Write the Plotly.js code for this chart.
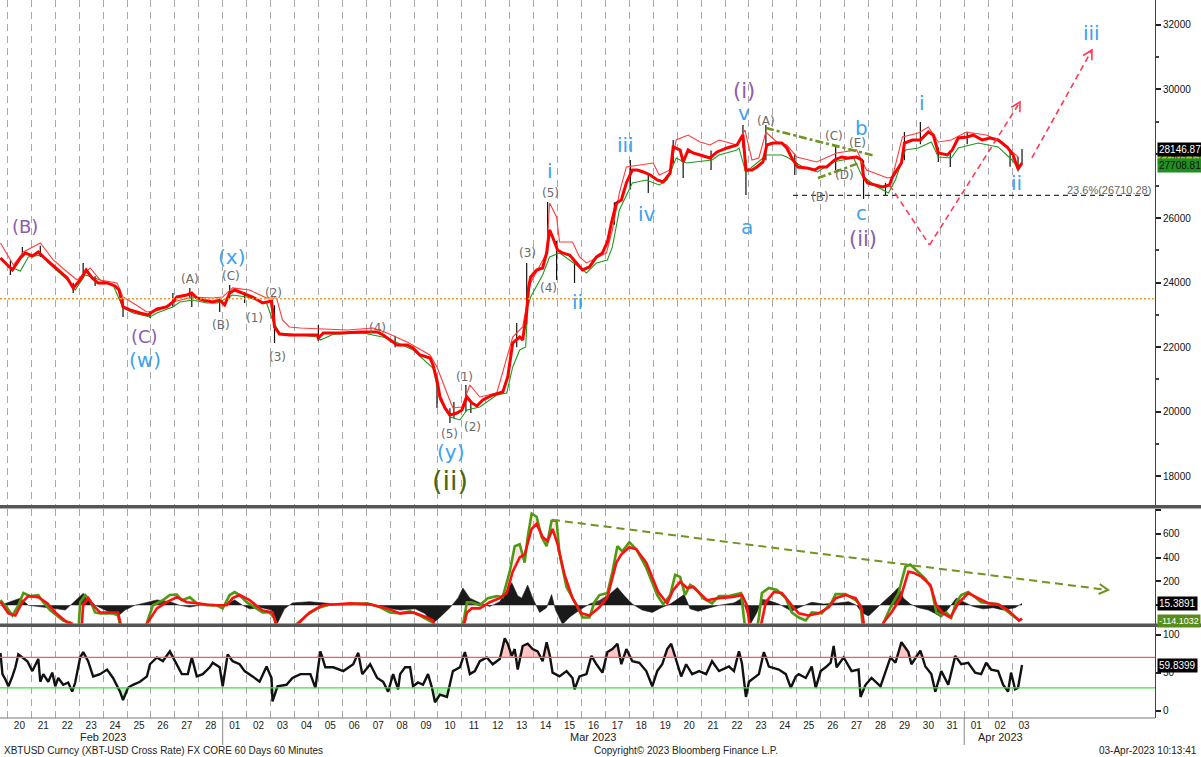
<!DOCTYPE html>
<html><head><meta charset="utf-8">
<script src="https://cdn.plot.ly/plotly-3.0.1.min.js"></script>
<style>html,body{margin:0;padding:0;background:#fff}#chart{width:1201px;height:757px}</style>
</head><body><div id="chart"></div>
<script>
// ---------- DATA ----------
// thick red line (fast average of XBT-USD, hourly chart)
const priceFast = [
["02-19 17",24768],["02-20 00",24550],["02-20 05",24395],["02-20 13",24770],["02-20 18",24923],
["02-21 01",24830],["02-21 07",24954],["02-21 12",24800],["02-21 19",24613],["02-22 03",24395],
["02-22 12",24147],["02-22 18",23837],["02-23 01",24085],["02-23 07",24395],["02-23 13",24147],
["02-23 19",23992],["02-24 04",23992],["02-24 12",23899],["02-24 16",23775],["02-24 20",23247],
["02-25 03",23154],["02-25 13",23061],["02-25 21",22998],["02-26 06",23185],["02-26 16",23247],
["02-26 22",23402],["02-27 02",23557],["02-27 12",23619],["02-27 17",23681],["02-27 22",23526],
["02-28 04",23464],["02-28 14",23402],["02-28 21",23464],["03-01 02",23309],["03-01 07",23681],
["03-01 12",23774],["03-01 20",23681],["03-02 06",23557],["03-02 16",23371],["03-03 01",23433],
["03-03 04",22626],["03-03 09",22409],["03-03 19",22378],["03-04 06",22378],["03-04 23",22378],
["03-05 00",22284],["03-05 05",22440],["03-05 22",22440],["03-06 18",22471],["03-07 11",22471],
["03-07 17",22378],["03-08 00",22222],["03-08 07",22067],["03-08 17",22067],["03-08 23",21974],
["03-09 06",21757],["03-09 16",21664],["03-09 19",21446],["03-09 23",20981],["03-10 02",20453],
["03-10 07",20111],["03-10 12",19894],["03-10 19",19956],["03-11 00",20049],["03-11 05",20453],
["03-11 10",20267],["03-11 15",20174],["03-11 21",20360],["03-12 07",20515],["03-12 17",20608],
["03-12 22",21073],["03-13 03",22129],["03-13 10",22315],["03-13 13",22222],["03-13 17",23092],
["03-13 19",23870],["03-13 21",24178],["03-14 03",24395],["03-14 09",24457],["03-14 13",24923],
["03-14 16",25637],["03-14 19",25420],["03-15 00",25016],["03-15 05",24923],["03-15 12",24861],
["03-15 19",24613],["03-16 01",24395],["03-16 08",24488],["03-16 15",24799],["03-16 21",24923],
["03-17 02",25264],["03-17 06",25854],["03-17 11",26475],["03-17 16",26568],["03-17 21",27096],
["03-18 03",27499],["03-18 08",27499],["03-18 14",27437],["03-18 21",27344],["03-19 04",27189],
["03-19 10",27127],["03-19 17",27406],["03-19 20",28213],["03-20 03",28120],["03-20 06",27747],
["03-20 11",28120],["03-20 16",28027],["03-20 23",27965],["03-21 06",27903],["03-21 09",27872],
["03-21 16",28058],["03-22 02",28182],["03-22 12",28275],["03-22 18",28585],["03-22 21",27499],
["03-23 03",27499],["03-23 08",27592],["03-23 14",27747],["03-23 18",28275],["03-24 00",28337],
["03-24 09",28337],["03-24 14",28182],["03-24 19",27872],["03-25 01",27592],["03-25 10",27561],
["03-25 18",27499],["03-25 23",27592],["03-26 06",27592],["03-26 14",27809],["03-26 21",27903],
["03-27 03",27872],["03-27 12",27903],["03-27 17",27809],["03-27 19",27282],["03-27 23",27096],
["03-28 08",27034],["03-28 14",26972],["03-28 21",27034],["03-29 00",27282],["03-29 09",27716],
["03-29 12",28337],["03-29 20",28430],["03-30 04",28430],["03-30 12",28678],["03-30 17",28585],
["03-30 22",28027],["03-31 07",27965],["03-31 12",28120],["03-31 18",28492],["04-01 03",28523],
["04-01 09",28585],["04-01 18",28430],["04-02 02",28492],["04-02 10",28430],["04-02 19",28213],
["04-03 01",27965],["04-03 06",27530],["04-03 10",27716]
];
// thin red line (slower upper average)
const priceUpper = [
["02-19 17",25233],["02-20 00",24861],["02-20 06",24550],["02-20 16",24954],["02-21 09",25233],
["02-21 16",24954],["02-21 22",24706],["02-22 12",24333],["02-22 22",24085],["02-23 11",24457],
["02-23 21",24085],["02-24 14",23992],["02-24 20",23557],["02-25 06",23371],["02-25 20",23092],
["02-26 09",23154],["02-26 22",23402],["02-27 18",23557],["02-28 14",23526],["03-01 00",23557],
["03-01 10",23837],["03-02 03",23774],["03-02 20",23526],["03-03 06",23526],["03-03 12",22843],
["03-03 19",22626],["03-04 06",22595],["03-06 05",22533],["03-07 07",22595],["03-07 21",22440],
["03-08 17",22160],["03-09 16",21757],["03-09 23",21384],["03-10 09",20577],["03-10 15",20111],
["03-11 00",20142],["03-11 08",20825],["03-11 18",20453],["03-12 11",20577],["03-13 03",22315],
["03-13 13",22626],["03-13 21",24000],["03-14 13",24923],["03-14 16",26475],["03-14 23",26040],
["03-15 02",25264],["03-15 15",25264],["03-15 22",24799],["03-16 05",24613],["03-17 01",24923],
["03-17 07",25637],["03-17 14",26785],["03-17 21",27592],["03-19 00",27716],["03-19 06",27344],
["03-19 17",27499],["03-19 23",28430],["03-20 11",28585],["03-20 23",28368],["03-21 09",28275],
["03-21 18",28430],["03-22 12",28275],["03-22 14",28430],["03-22 20",28740],["03-23 03",27809],
["03-23 10",27872],["03-23 17",28678],["03-24 04",28368],["03-24 14",28275],["03-25 00",27903],
["03-25 20",27747],["03-26 16",28027],["03-27 12",28120],["03-27 22",27499],["03-28 19",27251],
["03-29 00",27282],["03-29 10",28523],["03-30 02",28647],["03-30 12",28833],["03-30 22",28368],
["03-31 11",28430],["04-01 02",28678],["04-01 22",28585],["04-02 14",28368],["04-03 00",28058],
["04-03 07",27872]
];
// thin green line (slower lower average)
const priceLower = [
["02-20 03",24488],["02-20 13",24364],["02-20 21",24800],["02-21 11",24861],["02-21 17",24613],
["02-22 12",24085],["02-22 20",23775],["02-23 06",24240],["02-23 13",24180],["02-24 10",23930],
["02-24 20",23216],["02-25 06",23061],["02-25 23",22936],["02-26 06",23061],["02-26 22",23247],
["02-27 05",23402],["02-27 18",23464],["02-28 08",23371],["02-28 19",23371],["03-01 10",23619],
["03-02 00",23557],["03-02 20",23371],["03-03 02",22843],["03-03 09",22440],["03-04 06",22378],
["03-04 23",22315],["03-05 02",22222],["03-05 15",22400],["03-06 21",22440],["03-07 21",22284],
["03-08 23",21912],["03-09 19",21353],["03-10 02",20360],["03-10 12",19832],["03-10 22",19739],
["03-11 05",20049],["03-11 18",20142],["03-12 11",20515],["03-12 21",20577],["03-13 03",21384],
["03-13 10",21912],["03-13 16",22005],["03-13 18",23247],["03-13 21",23557],["03-14 09",24240],
["03-14 16",24799],["03-15 02",24923],["03-15 19",24550],["03-16 05",24302],["03-16 15",24613],
["03-17 02",24706],["03-17 07",25109],["03-17 14",26257],["03-17 21",26723],["03-18 03",27096],
["03-18 17",27189],["03-19 06",27034],["03-19 14",27189],["03-19 23",27872],["03-20 09",27716],
["03-20 19",27747],["03-21 11",27809],["03-21 18",27965],["03-22 01",28027],["03-22 12",28120],
["03-22 14",28182],["03-22 21",27406],["03-23 03",27592],["03-23 18",27965],["03-24 09",27965],
["03-24 14",27903],["03-25 06",27592],["03-25 21",27437],["03-26 12",27747],["03-27 09",27872],
["03-27 17",27344],["03-28 07",27003],["03-28 20",26785],["03-29 03",27189],["03-29 13",28120],
["03-30 02",28182],["03-30 15",28368],["03-30 22",27903],["03-31 11",27872],["03-31 18",28182],
["04-01 14",28337],["04-02 10",28213],["04-03 00",27809],["04-03 07",27530],["04-03 10",27709]
];
// black hourly bars: notable wicks [time, low, high]
const barWicks = [
["02-20 03",24240,24700],["02-20 15",24850,25109],["02-21 09",24800,25150],["02-22 18",23681,24000],
["02-23 04",24300,24613],["02-23 16",23900,24200],["02-24 20",22936,23500],["02-25 23",22905,23100],
["02-26 22",23250,23681],["02-27 15",23500,23837],["02-27 17",23247,23650],["02-28 21",23092,23450],
["03-01 07",23500,23930],["03-01 22",23371,23700],["03-03 04",22129,23300],["03-05 00",22200,22688],
["03-08 05",22000,22350],["03-09 23",20111,20980],["03-10 12",19646,20100],["03-10 16",19800,20298],
["03-11 04",20000,20825],["03-11 09",19956,20300],["03-13 07",22000,22750],["03-13 17",22700,24613],
["03-14 14",24900,26506],["03-14 23",24085,25300],["03-15 17",23992,24700],["03-17 09",25800,26500],
["03-18 01",26900,27809],["03-18 19",26785,27400],["03-19 20",27700,28430],["03-20 06",27251,27900],
["03-21 10",27499,28100],["03-22 18",28200,28896],["03-22 21",26723,27800],["03-23 17",27800,28896],
["03-24 22",27344,28000],["03-26 15",27500,28275],["03-27 19",26599,27800],["03-28 17",26723,27100],
["03-29 12",27800,28678],["03-30 04",28300,28989],["03-30 22",27747,28200],["03-31 10",27592,28100],
["04-01 03",28300,28678],["04-02 22",27600,28100],["04-03 06",27450,27900],["04-03 10",27700,28147]
];
// middle panel: oscillator green and red lines, black histogram
const oscGreen = [
["02-19 17",43],["02-20 00",-26],["02-20 05",-86],["02-20 11",0],["02-20 16",103],["02-20 23",77],
["02-21 07",86],["02-21 12",26],["02-21 19",-43],["02-22 02",-86],["02-22 08",-128],["02-22 15",-145],
["02-22 19",-250],["02-22 23",-250],["02-23 01",26],["02-23 06",86],["02-23 11",40],["02-23 16",-60],
["02-23 21",-68],["02-24 10",-68],["02-24 15",-86],["02-24 19",-250],["02-25 18",-250],["02-25 20",-145],
["02-26 02",0],["02-26 12",43],["02-26 19",86],["02-27 02",90],["02-27 07",43],["02-27 15",68],
["02-27 22",17],["02-28 08",0],["02-28 18",0],["03-01 00",-26],["03-01 07",86],["03-01 12",111],
["03-01 17",86],["03-02 00",26],["03-02 10",-26],["03-02 16",-60],["03-02 23",-60],["03-03 04",-111],
["03-03 07",-250],["03-03 23",-250],["03-04 02",-160],["03-04 12",-86],["03-04 23",-26],["03-05 12",9],
["03-06 08",9],["03-07 01",17],["03-07 14",-17],["03-08 00",-60],["03-08 10",-68],["03-08 20",-51],
["03-09 06",-86],["03-09 19",-145],["03-09 23",-250],["03-10 22",-250],["03-11 02",-120],["03-11 05",26],
["03-11 10",26],["03-11 18",0],["03-12 02",60],["03-12 11",77],["03-12 17",70],["03-13 00",282],
["03-13 05",496],["03-13 10",513],["03-13 15",359],["03-13 18",573],["03-13 22",770],["03-14 03",744],
["03-14 08",573],["03-14 13",496],["03-14 18",710],["03-14 23",710],["03-15 02",428],["03-15 09",154],
["03-15 19",0],["03-16 01",-103],["03-16 08",-103],["03-16 13",26],["03-16 18",86],["03-17 02",103],
["03-17 07",282],["03-17 12",496],["03-17 17",453],["03-18 00",530],["03-18 07",470],["03-18 17",316],
["03-19 04",86],["03-19 10",9],["03-19 17",86],["03-19 22",257],["03-20 03",239],["03-20 08",86],
["03-20 13",171],["03-20 18",145],["03-21 02",60],["03-21 11",17],["03-21 18",77],["03-22 04",77],
["03-22 16",103],["03-22 17",26],["03-22 21",-250],["03-23 07",-250],["03-23 10",-100],["03-23 13",103],
["03-23 20",145],["03-24 04",128],["03-24 13",60],["03-24 19",-60],["03-25 02",-103],["03-25 09",-128],
["03-25 15",-60],["03-26 01",-68],["03-26 11",26],["03-26 15",94],["03-27 01",94],["03-27 11",43],
["03-27 16",0],["03-27 19",-250],["03-28 10",-250],["03-28 17",-111],["03-28 23",0],["03-29 06",103],
["03-29 13",325],["03-29 18",342],["03-30 02",274],["03-30 09",222],["03-30 15",145],["03-30 20",-60],
["03-31 01",-86],["03-31 06",-60],["03-31 11",-103],["03-31 16",26],["03-31 21",86],["04-01 04",111],
["04-01 11",68],["04-01 17",26],["04-02 10",9],["04-02 20",-60],["04-03 07",-128],["04-03 10",-114]
];
const oscRed = [
["02-19 17",30],["02-20 01",-68],["02-20 08",-86],["02-20 15",26],["02-20 21",77],["02-21 07",68],
["02-21 16",17],["02-22 00",-60],["02-22 12",-145],["02-22 17",-154],["02-22 21",-250],["02-23 02",-250],
["02-23 04",0],["02-23 09",60],["02-23 14",0],["02-23 21",-60],["02-24 15",-60],["02-24 20",-250],
["02-25 18",-250],["02-25 20",-154],["02-26 06",-26],["02-26 16",26],["02-27 02",68],["02-27 12",26],
["02-27 22",17],["02-28 14",0],["03-01 04",0],["03-01 10",60],["03-01 17",86],["03-02 03",43],
["03-02 16",-43],["03-03 02",-60],["03-03 09",-250],["03-03 22",-250],["03-04 02",-170],["03-04 15",-60],
["03-05 04",0],["03-06 08",17],["03-07 04",9],["03-07 21",-26],["03-08 10",-68],["03-08 23",-60],
["03-09 13",-103],["03-09 19",-128],["03-09 23",-250],["03-11 00",-250],["03-11 05",-60],["03-11 10",-26],
["03-11 18",-26],["03-12 04",26],["03-12 14",60],["03-12 21",103],["03-13 03",282],["03-13 10",402],
["03-13 15",428],["03-13 22",641],["03-14 03",684],["03-14 09",573],["03-14 14",539],["03-14 19",641],
["03-15 00",513],["03-15 07",257],["03-15 15",60],["03-16 00",-68],["03-16 08",-86],["03-16 18",-17],
["03-17 02",68],["03-17 11",359],["03-17 16",428],["03-18 00",487],["03-18 07",470],["03-18 17",359],
["03-19 05",111],["03-19 14",17],["03-19 20",128],["03-20 03",197],["03-20 10",145],["03-20 16",154],
["03-21 06",43],["03-21 18",60],["03-22 08",70],["03-22 17",86],["03-22 22",0],["03-23 02",-250],
["03-23 10",-250],["03-23 14",-100],["03-23 17",26],["03-24 01",111],["03-24 09",103],["03-24 19",0],
["03-25 02",-68],["03-25 12",-86],["03-25 22",-68],["03-26 08",-17],["03-26 15",60],["03-27 01",86],
["03-27 11",60],["03-27 17",-26],["03-27 21",-250],["03-28 13",-250],["03-28 15",-145],["03-28 23",-60],
["03-29 08",60],["03-29 16",282],["03-29 21",274],["03-30 05",240],["03-30 14",171],["03-30 20",0],
["03-31 03",-68],["03-31 10",-103],["03-31 18",17],["04-01 04",103],["04-01 14",60],["04-02 00",17],
["04-02 10",9],["04-02 20",-43],["04-03 07",-128],["04-03 10",-111]
];
const oscHist = [
["02-19 17",0],["02-20 03",30],["02-20 13",60],["02-20 21",0],["02-21 09",-10],["02-22 02",-30],
["02-22 10",-40],["02-22 15",0],["02-22 23",60],["02-23 04",100],["02-23 09",60],["02-23 16",0],
["02-24 02",-40],["02-24 15",-90],["02-24 22",-40],["02-25 08",0],["02-25 18",20],["02-26 06",45],
["02-26 19",30],["02-27 05",0],["02-27 15",-15],["02-28 01",0],["02-28 14",10],["03-01 00",0],
["03-01 12",45],["03-01 20",0],["03-02 03",-30],["03-02 15",-20],["03-03 01",-40],["03-03 07",-150],
["03-03 14",-30],["03-03 22",20],["03-04 15",30],["03-05 12",15],["03-06 08",8],["03-07 04",0],
["03-07 19",-20],["03-08 10",-40],["03-09 01",-30],["03-09 11",-70],["03-09 19",-150],["03-10 02",-100],
["03-10 12",-20],["03-10 20",60],["03-11 01",145],["03-11 08",60],["03-11 18",20],["03-12 04",-10],
["03-12 14",30],["03-12 21",120],["03-13 02",190],["03-13 08",80],["03-13 12",60],["03-13 18",170],
["03-13 23",60],["03-14 06",-60],["03-14 13",-20],["03-14 18",90],["03-14 22",-40],["03-15 05",-160],
["03-15 12",-100],["03-15 22",-40],["03-16 08",10],["03-16 18",40],["03-17 04",90],["03-17 12",150],
["03-17 19",80],["03-18 03",10],["03-18 13",-40],["03-18 23",-60],["03-19 08",-20],["03-19 17",10],
["03-20 01",60],["03-20 07",90],["03-20 13",-30],["03-20 21",-50],["03-21 09",-20],["03-21 18",0],
["03-22 09",20],["03-22 17",60],["03-22 22",-60],["03-23 02",-150],["03-23 08",-60],["03-23 13",50],
["03-23 20",40],["03-24 06",10],["03-24 19",-50],["03-25 02",-20],["03-25 15",25],["03-26 03",10],
["03-26 18",20],["03-27 04",30],["03-27 12",0],["03-27 17",-60],["03-28 00",-90],["03-28 07",-30],
["03-28 15",30],["03-28 23",90],["03-29 06",150],["03-29 11",60],["03-29 18",10],["03-30 02",-20],
["03-30 12",-40],["03-30 19",-70],["03-31 01",-100],["03-31 08",-30],["03-31 16",60],["03-31 23",30],
["04-01 09",-10],["04-01 19",-30],["04-02 05",-20],["04-02 15",-40],["04-02 22",-30],["04-03 03",-20],
["04-03 10",15]
];
// bottom panel: RSI
const rsi = [
["02-19 17",76],["02-19 19",48],["02-19 22",41],["02-20 01",32],["02-20 05",45],["02-20 08",57],
["02-20 11",74],["02-20 15",70],["02-20 20",65],["02-21 01",52],["02-21 04",61],["02-21 07",68],
["02-21 09",38],["02-21 12",48],["02-21 17",38],["02-21 21",50],["02-22 00",32],["02-22 03",43],
["02-22 08",34],["02-22 13",37],["02-22 17",25],["02-22 20",37],["02-23 01",70],["02-23 04",77],
["02-23 09",65],["02-23 14",45],["02-23 21",48],["02-24 04",54],["02-24 10",43],["02-24 17",25],
["02-24 20",14],["02-25 01",30],["02-25 06",34],["02-25 13",38],["02-25 20",45],["02-25 23",61],
["02-26 06",70],["02-26 12",65],["02-26 19",78],["02-27 00",65],["02-27 07",48],["02-27 13",48],
["02-27 17",70],["02-27 22",45],["02-28 04",48],["02-28 11",57],["02-28 14",63],["02-28 21",57],
["03-01 00",32],["03-01 05",74],["03-01 10",65],["03-01 17",61],["03-01 22",52],["03-02 06",45],
["03-02 13",38],["03-02 20",58],["03-03 01",43],["03-03 02",12],["03-03 07",32],["03-03 16",34],
["03-03 22",43],["03-04 06",48],["03-04 16",48],["03-04 21",30],["03-05 02",78],["03-05 07",57],
["03-05 15",57],["03-06 01",52],["03-06 11",61],["03-06 16",76],["03-06 20",48],["03-07 04",61],
["03-07 11",43],["03-07 17",38],["03-07 22",25],["03-08 03",48],["03-08 08",28],["03-08 10",48],
["03-08 15",57],["03-08 20",57],["03-08 23",32],["03-09 04",37],["03-09 09",34],["03-09 14",48],
["03-09 18",30],["03-09 21",11],["03-10 02",21],["03-10 09",18],["03-10 12",34],["03-10 15",52],
["03-10 22",57],["03-11 03",77],["03-11 08",48],["03-11 13",52],["03-11 18",65],["03-12 01",70],
["03-12 07",61],["03-12 14",68],["03-12 19",95],["03-12 22",88],["03-13 02",72],["03-13 05",81],
["03-13 08",54],["03-13 13",85],["03-13 18",88],["03-13 23",81],["03-14 04",78],["03-14 09",65],
["03-14 13",90],["03-14 16",74],["03-14 19",50],["03-15 02",45],["03-15 09",52],["03-15 15",43],
["03-15 17",28],["03-15 22",45],["03-16 05",48],["03-16 10",72],["03-16 15",61],["03-16 21",50],
["03-17 02",77],["03-17 07",81],["03-17 12",88],["03-17 16",61],["03-17 21",81],["03-18 03",65],
["03-18 10",63],["03-18 17",52],["03-18 23",32],["03-19 04",52],["03-19 09",61],["03-19 14",81],
["03-19 18",88],["03-19 23",65],["03-20 04",45],["03-20 09",61],["03-20 15",48],["03-20 22",52],
["03-21 05",48],["03-21 11",65],["03-21 18",52],["03-22 04",58],["03-22 09",52],["03-22 14",78],
["03-22 17",62],["03-22 21",18],["03-23 00",38],["03-23 10",48],["03-23 15",77],["03-23 20",58],
["03-24 06",54],["03-24 13",48],["03-24 18",30],["03-24 23",45],["03-25 02",48],["03-25 09",43],
["03-25 15",58],["03-25 19",30],["03-26 00",52],["03-26 05",57],["03-26 10",63],["03-26 13",85],
["03-26 16",57],["03-26 23",70],["03-27 07",52],["03-27 14",54],["03-27 16",18],["03-27 21",34],
["03-28 03",43],["03-28 12",32],["03-28 17",50],["03-28 22",70],["03-29 03",63],["03-29 09",90],
["03-29 16",77],["03-29 19",61],["03-30 04",79],["03-30 09",58],["03-30 15",48],["03-30 19",25],
["03-31 01",52],["03-31 08",34],["03-31 15",72],["03-31 21",61],["04-01 04",63],["04-01 11",50],
["04-01 17",48],["04-01 22",63],["04-02 03",54],["04-02 10",52],["04-02 15",34],["04-02 20",25],
["04-02 23",50],["04-03 03",28],["04-03 06",30],["04-03 10",60]
];
// reference levels
const supportLevel = 23500;          // orange dotted line
const fibLevel = 26710.28;           // 23.6% retracement
const rsiUpper = 70, rsiLower = 30;
// last-value tags
const lastClose = 28146.87, lastMidA = 27909.15, lastMidB = 27708.81;
const lastHist = 15.3891, lastOsc = -114.1032, lastRsi = 59.8399;
// wave-count labels [text, time, price, kind]
const waveLabels = [
["(B)","02-20 17:40",25730,"purple"],["(C)","02-25 18:00",22316,"purple"],["(w)","02-25 18:00",21602,"blue"],
["(A)","02-27 15:18",24116,"gray"],["(C)","03-01 08:24",24209,"gray"],["(x)","03-01 08:24",24799,"blue"],
["(B)","02-28 22:18",22688,"gray"],["(1)","03-02 08:24",22905,"gray"],["(2)","03-03 02:30",23681,"gray"],
["(3)","03-03 06:30",21695,"gray"],["(4)","03-07 11:48",22595,"gray"],["(1)","03-11 03:06",21074,"gray"],
["(5)","03-10 11:06",19305,"gray"],["(2)","03-11 10:12",19522,"gray"],["(y)","03-10 12:06",18746,"blue"],
["(ii)","03-10 12:06",17846,"green"],["(3)","03-13 18:18",24923,"gray"],["(4)","03-14 14:24",23837,"gray"],
["(5)","03-14 16:24",26785,"gray"],["i","03-14 16:24",27468,"blue"],["ii","03-15 19:30",23402,"blue"],
["iii","03-17 19:42",28275,"blue"],["iv","03-18 17:48",26134,"blue"],["(i)","03-22 19:06",29951,"purple2"],
["v","03-22 19:06",29268,"blue"],["(A)","03-23 17:06",29020,"gray"],["a","03-22 22:06",25730,"blue"],
["(C)","03-26 13:18",28555,"gray"],["b","03-27 17:24",28803,"blue"],["(E)","03-27 13:24",28337,"gray"],
["(D)","03-27 00:18",27344,"gray"],["(B)","03-25 23:12",26661,"gray"],["c","03-27 17:24",26165,"blue"],
["(ii)","03-27 18:24",25357,"purple2"],["i","03-30 05:36",29579,"blue"],["ii","04-03 04:54",27096,"blue"],
["iii","04-06 08:12",31752,"blue"]
];
// drawn trend lines [t0, p0, t1, p1]
const triangleLines = [["03-23 17:06",28803,"03-28 06:30",27934],["03-25 21:18",27251,"03-27 17:30",27747]];
const projPath1 = [["03-28 21:06",27034],["03-30 13:12",25171],["04-03 08:00",29610]];
const projPath2 = [["04-03 19:54",27872],["04-06 08:06",31224]];
const oscTrend = [["03-14 18:24",718],["04-07 00:18",128]];
const fibStart = "03-24 20:12";

// ---------- BUILD ----------
const T = s => '2023-' + s + (s.length === 8 ? ':00' : '');
const xs = a => a.map(p => T(p[0]));
const ys = a => a.map(p => p[1]);

const wx = [], wy = [];
barWicks.forEach(w => { wx.push(T(w[0]), T(w[0]), null); wy.push(w[1], w[2], null); });

const dayTicks = [], dayText = [];
for (let d = new Date(Date.UTC(2023,1,20)); d.getTime() <= Date.UTC(2023,3,3); d.setUTCDate(d.getUTCDate()+1)) {
  const iso = d.toISOString().slice(0,10);
  dayTicks.push(iso); dayText.push(iso.slice(8,10));
}

const NARROW = 'Liberation Sans Narrow, Arial Narrow, Liberation Sans, Arial, sans-serif';
const WAVE = 'DejaVu Sans, Verdana, sans-serif';

const traces = [
  {x: wx, y: wy, xaxis:'x', yaxis:'y', mode:'lines', line:{color:'#111', width:1.2}, hoverinfo:'skip'},
  {x: xs(priceLower), y: ys(priceLower), xaxis:'x', yaxis:'y', mode:'lines', line:{color:'#1e9a1e', width:1.1}},
  {x: xs(priceUpper), y: ys(priceUpper), xaxis:'x', yaxis:'y', mode:'lines', line:{color:'#ff3b3b', width:1.1}},
  {x: xs(priceFast), y: ys(priceFast), xaxis:'x', yaxis:'y', mode:'lines', line:{color:'#ff0000', width:3}},
  // middle panel
  {x: xs(oscHist), y: ys(oscHist), xaxis:'x2', yaxis:'y2', mode:'lines', fill:'tozeroy', fillcolor:'#1a1a1a', line:{color:'#1a1a1a', width:0.6}},
  {x: xs(oscGreen), y: ys(oscGreen), xaxis:'x2', yaxis:'y2', mode:'lines', line:{color:'#4e9a12', width:2.6}},
  {x: xs(oscRed), y: ys(oscRed), xaxis:'x2', yaxis:'y2', mode:'lines', fill:'tonexty', fillcolor:'rgba(255,140,140,0.22)', line:{color:'#ff1010', width:2.6}},
  // bottom panel fills
  {x: xs(rsi), y: rsi.map(()=>rsiUpper), xaxis:'x3', yaxis:'y3', mode:'lines', line:{width:0, color:'rgba(0,0,0,0)'}},
  {x: xs(rsi), y: rsi.map(p=>Math.max(p[1], rsiUpper)), xaxis:'x3', yaxis:'y3', mode:'lines', fill:'tonexty', fillcolor:'rgba(255,150,150,0.55)', line:{width:0, color:'rgba(0,0,0,0)'}},
  {x: xs(rsi), y: rsi.map(()=>rsiLower), xaxis:'x3', yaxis:'y3', mode:'lines', line:{width:0, color:'rgba(0,0,0,0)'}},
  {x: xs(rsi), y: rsi.map(p=>Math.min(p[1], rsiLower)), xaxis:'x3', yaxis:'y3', mode:'lines', fill:'tonexty', fillcolor:'rgba(140,230,140,0.55)', line:{width:0, color:'rgba(0,0,0,0)'}},
  {x: xs(rsi), y: ys(rsi), xaxis:'x3', yaxis:'y3', mode:'lines', line:{color:'#111', width:2.4}}
];

const xRange = ['2023-02-19 16:34', '2023-04-08 23:25'];
const xBase = {
  type:'date', range:xRange, tickmode:'array', tickvals:dayTicks, ticktext:dayText,
  showgrid:true, gridcolor:'#a9a9a9', griddash:'7px,5px', gridwidth:1,
  zeroline:false, showline:false, ticks:'', fixedrange:true
};
const yBase = {side:'right', showgrid:false, zeroline:false, showline:true, linecolor:'#444', linewidth:1,
  ticks:'outside', ticklen:5, tickwidth:2, tickcolor:'#222', tickfont:{family:NARROW, size:10, color:'#111'}};

const P = y => (718 - y) / 718; // pixel row -> paper
const colors = {purple:'#8c5cae', purple2:'#8c5cae', blue:'#3ba3f0', gray:'#6a6a6a', green:'#4a6810'};
const sizes = {purple:18, purple2:21, blue:20, gray:12, green:27};

const annotations = waveLabels.map(l => ({
  xref:'x', yref:'y', x:T(l[1]), y:l[2], text:l[0], showarrow:false,
  xanchor:'center', yanchor:'middle', font:{family:WAVE, size:sizes[l[3]], color:colors[l[3]]}
}));

function tag(text, yref, y, bg, fg, size) {
  return {xref:'paper', yref:yref, x:1157/1155, y:y, xanchor:'left', yanchor:'middle', text:text, showarrow:false,
    bgcolor:bg, borderpad:1, font:{family:NARROW, size:size || 10, color:fg}};
}
function foot(text, xpx, anchor, ypx, size) {
  return {xref:'paper', yref:'paper', x:xpx/1155, y:P(ypx), xanchor:anchor, yanchor:'middle', text:text,
    showarrow:false, font:{family:NARROW, size:size, color:'#222'}};
}
annotations.push(
  tag(lastMidA.toFixed(2), 'y', 27930, '#9acd32', '#333'),
  tag(lastMidB.toFixed(2), 'y', lastMidB - 80, '#1f8f1f', '#111'),
  tag(lastClose.toFixed(2), 'y', lastClose, '#000', '#fff'),
  tag(lastHist.toFixed(4), 'y2', lastHist, '#000', '#fff'),
  tag(lastOsc.toFixed(4), 'y2', lastOsc - 20, '#5a8c1c', '#fff', 9),
  tag(lastRsi.toFixed(4), 'y3', lastRsi, '#000', '#fff'),
  {xref:'paper', yref:'y', x:0.998, y:fibLevel, xanchor:'right', yanchor:'middle', yshift:5, showarrow:false,
   text:'23.6%(' + fibLevel.toFixed(2) + ')', font:{family:NARROW, size:11, color:'#666'}},
  foot('Feb 2023', 103, 'center', 737, 11),
  foot('Mar 2023', 593, 'center', 737, 11),
  foot('Apr 2023', 1000, 'center', 737, 11),
  foot('XBTUSD Curncy (XBT-USD Cross Rate) FX CORE 60 Days 60 Minutes', 2, 'left', 750, 10),
  foot('Copyright\u00a9 2023 Bloomberg Finance L.P.', 686, 'center', 750, 10),
  foot('03-Apr-2023 10:13:41', 1199, 'right', 750, 10)
);

const shapes = [
  // panel separators
  {type:'rect', xref:'paper', yref:'paper', x0:0, x1:1201/1155, y0:P(508.5), y1:P(505), fillcolor:'#555', line:{width:0}},
  {type:'rect', xref:'paper', yref:'paper', x0:0, x1:1201/1155, y0:P(627), y1:P(623.5), fillcolor:'#555', line:{width:0}},
  {type:'line', xref:'paper', yref:'paper', x0:0, x1:1, y0:0, y1:0, line:{color:'#777', width:1}},
  // month separators below axis
  {type:'line', xref:'x3', yref:'paper', x0:'2023-03-01', x1:'2023-03-01', y0:0, y1:P(745), line:{color:'#888', width:1}},
  {type:'line', xref:'x3', yref:'paper', x0:'2023-04-01', x1:'2023-04-01', y0:0, y1:P(745), line:{color:'#888', width:1}},
  // levels
  {type:'line', xref:'paper', yref:'y', x0:0, x1:1, y0:supportLevel, y1:supportLevel, line:{color:'#f0a028', width:1.5, dash:'2px,2px'}},
  {type:'line', xref:'x', yref:'y', x0:T(fibStart), x1:'2023-04-08 21:00', y0:fibLevel, y1:fibLevel, line:{color:'#333', width:1.3, dash:'5px,4px'}},
  {type:'line', xref:'x3', yref:'y3', x0:xRange[0], x1:xRange[1], y0:rsiUpper, y1:rsiUpper, line:{color:'#ff5a5a', width:1.2}},
  {type:'line', xref:'x3', yref:'y3', x0:xRange[0], x1:xRange[1], y0:rsiLower, y1:rsiLower, line:{color:'#44dd44', width:1.2}}
];
triangleLines.forEach(l => shapes.push({type:'line', xref:'x', yref:'y', x0:T(l[0]), y0:l[1], x1:T(l[2]), y1:l[3],
  line:{color:'#6f9420', width:2.6, dash:'8px,3px,3px,3px'}}));
const redDash = {color:'#ff3a55', width:1.6, dash:'6px,4px'};
for (let i = 0; i < projPath1.length - 1; i++) shapes.push({type:'line', xref:'x', yref:'y',
  x0:T(projPath1[i][0]), y0:projPath1[i][1], x1:T(projPath1[i+1][0]), y1:projPath1[i+1][1], line:redDash});
shapes.push({type:'line', xref:'x', yref:'y', x0:T(projPath2[0][0]), y0:projPath2[0][1], x1:T(projPath2[1][0]), y1:projPath2[1][1], line:redDash});
// arrow heads (pixel-sized, anchored at the tips)
function head(xref, yref, t, v, path, color, w) {
  return {type:'path', xref:xref, yref:yref, xsizemode:'pixel', ysizemode:'pixel', xanchor:T(t), yanchor:v,
    path:path, line:{color:color, width:w}};
}
const tip1 = projPath1[projPath1.length-1], tip2 = projPath2[1];
shapes.push(head('x','y', tip1[0], tip1[1], 'M -0.2,-10.3 L 0,0 L -8.8,-5.3', '#ff3a55', 1.6));
shapes.push(head('x','y', tip2[0], tip2[1], 'M 0,-10.3 L 0,0 L -8.8,-5.5', '#ff3a55', 1.6));
shapes.push({type:'line', xref:'x2', yref:'y2', x0:T(oscTrend[0][0]), y0:oscTrend[0][1], x1:T(oscTrend[1][0]), y1:oscTrend[1][1],
  line:{color:'#6f9420', width:2, dash:'8px,5px'}});
shapes.push(head('x2','y2', oscTrend[1][0], oscTrend[1][1], 'M -9.5,-3.9 L 0,0 L -8.3,6.1', '#6f9420', 2));

const layout = {
  width:1201, height:757, margin:{l:0, r:46, t:0, b:39},
  paper_bgcolor:'#fff', plot_bgcolor:'#fff', showlegend:false, hovermode:false,
  font:{family:NARROW, size:10, color:'#222'},
  xaxis: Object.assign({}, xBase, {anchor:'y', matches:'x3', showticklabels:false}),
  xaxis2: Object.assign({}, xBase, {anchor:'y2', matches:'x3', showticklabels:false}),
  xaxis3: Object.assign({}, xBase, {anchor:'y3', showticklabels:true, ticklabelshift:12,
    tickfont:{family:NARROW, size:10, color:'#222'}}),
  yaxis: Object.assign({}, yBase, {domain:[P(505), 1], range:[17100, 32775], tick0:18000, dtick:2000, tickformat:'d',
    minor:{dtick:1000, ticks:'outside', ticklen:3, tickcolor:'#444', showgrid:false}}),
  yaxis2: Object.assign({}, yBase, {domain:[P(623.5), P(508.5)], range:[-153, 813], tickmode:'array',
    tickvals:[0,200,400,600,800], ticktext:['','200','400','600','']}),
  yaxis3: Object.assign({}, yBase, {domain:[0, P(627)], range:[-9.7, 110], tickmode:'array', tickvals:[0,50,100]}),
  annotations: annotations, shapes: shapes
};

Plotly.newPlot('chart', traces, layout, {staticPlot:true, displayModeBar:false});
</script></body></html>
